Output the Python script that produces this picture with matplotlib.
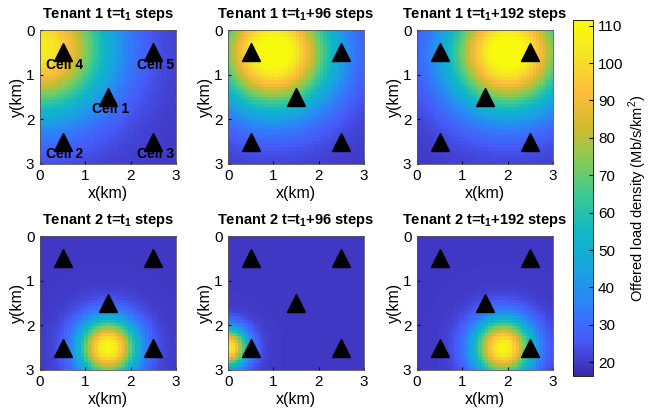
import numpy as np
import matplotlib
matplotlib.use("Agg")
import matplotlib.pyplot as plt
from matplotlib.colors import LinearSegmentedColormap

plt.rcParams['font.family'] = ['Liberation Sans', 'DejaVu Sans']
plt.rcParams['mathtext.fontset'] = 'custom'
plt.rcParams['mathtext.rm'] = 'Liberation Sans'
plt.rcParams['mathtext.bf'] = 'Liberation Sans:bold'

# parula-like colormap (approximate anchors)
parula_colors = [
    (0.2422, 0.1504, 0.6603), (0.2780, 0.3556, 0.9777), (0.1801, 0.5070, 0.9757),
    (0.0956, 0.6444, 0.8819), (0.0590, 0.7192, 0.7769), (0.2161, 0.7843, 0.5923),
    (0.5044, 0.7993, 0.3480), (0.8185, 0.7327, 0.1869), (0.9955, 0.7413, 0.2394),
    (0.9598, 0.8906, 0.1537), (0.9763, 0.9831, 0.0538),
]
parula = LinearSegmentedColormap.from_list('parula', parula_colors)

# cell sites (km)
cell_x = [1.5, 0.5, 2.5, 0.5, 2.5]
cell_y = [1.5, 2.5, 2.5, 0.5, 0.5]
cell_names = ['Cell 1', 'Cell 2', 'Cell 3', 'Cell 4', 'Cell 5']

titles = [
    r'Tenant 1 t=t$_{\mathbf{1}}$ steps', r'Tenant 1 t=t$_{\mathbf{1}}$+96 steps',
    r'Tenant 1 t=t$_{\mathbf{1}}$+192 steps',
    r'Tenant 2 t=t$_{\mathbf{1}}$ steps', r'Tenant 2 t=t$_{\mathbf{1}}$+96 steps',
    r'Tenant 2 t=t$_{\mathbf{1}}$+192 steps',
]

# hotspot parameters per panel
hot_x = [0.0, 1.0, 2.0, 1.5, 0.0, 1.9]
hot_y = [0.4, 0.5, 0.5, 2.5, 2.5, 2.5]
hot_peak = [106, 118, 118, 111, 108, 110]
hot_sigma = [1.05, 0.9, 0.9, 0.45, 0.30, 0.45]
base_load = 20
vmin, vmax = 16.3, 111.5

n = 40
g = (np.arange(n) + 0.5) * 3.0 / n
X, Y = np.meshgrid(g, g)

fig = plt.figure(figsize=(6.5, 4.17), dpi=100)
lefts = [0.0615, 0.351, 0.6415]
bottoms = [0.607, 0.113]
w, h = 0.209, 0.321

for i in range(6):
    r, c = divmod(i, 3)
    ax = fig.add_axes([lefts[c], bottoms[r], w, h])
    d2 = (X - hot_x[i]) ** 2 + (Y - hot_y[i]) ** 2
    Z = base_load + (hot_peak[i] - base_load) * np.exp(-d2 / (2 * hot_sigma[i] ** 2))
    Z = np.minimum(Z, vmax)
    im = ax.imshow(Z, cmap=parula, vmin=vmin, vmax=vmax, extent=[0, 3, 3, 0],
                   origin='upper', interpolation='nearest', aspect='auto')
    ax.plot(cell_x, cell_y, '^', color='black', markersize=13, linestyle='none')
    if i == 0:
        for cx, cy, nm in zip(cell_x, cell_y, cell_names):
            ax.text(cx + 0.05, cy + 0.28, nm, ha='center', va='center',
                    fontsize=10, fontweight='bold')
    ax.set_xlim(0, 3)
    ax.set_ylim(3, 0)
    ax.set_xticks([0, 1, 2, 3])
    ax.set_yticks([0, 1, 2, 3])
    ax.tick_params(direction='in', length=2, labelsize=11, pad=4)
    ax.set_xlabel('x(km)', fontsize=11.5, labelpad=2)
    ax.set_ylabel('y(km)', fontsize=11.5, labelpad=1)
    ax.set_title(titles[i], fontsize=10.5, fontweight='bold', pad=9)
    for s in ax.spines.values():
        s.set_linewidth(0.6)
        s.set_color('#555555')

cax = fig.add_axes([0.8815, 0.098, 0.031, 0.854])
cb = fig.colorbar(im, cax=cax, ticks=range(20, 111, 10))
cb.ax.tick_params(direction='in', length=3, labelsize=11)
cb.outline.set_linewidth(0.6)
cb.set_label(r'Offered load density (Mb/s/km$^2$)', fontsize=10.5, labelpad=2)

fig.savefig('out.png', dpi=100)
